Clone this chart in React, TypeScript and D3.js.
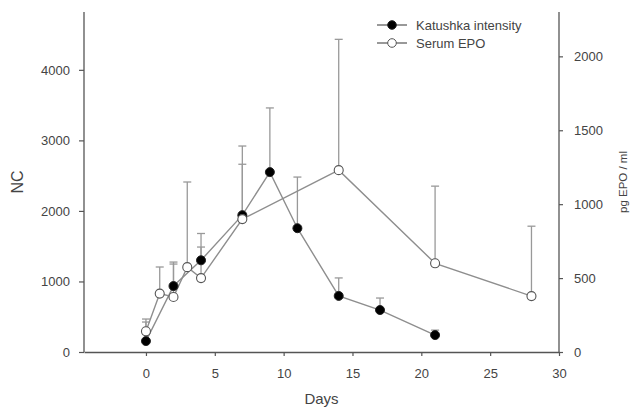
import React, { useEffect, useRef } from "react"
import * as d3 from "d3"

// Katushka intensity (left axis, NC)
const katDays = [0, 2, 4, 7, 9, 11, 14, 17, 21]
const katValues = [155, 935, 1300, 1940, 2550, 1755, 795, 595, 240]
const katErr = [270, 340, 380, 980, 910, 725, 255, 170, 70]

// Serum EPO (right axis, pg/ml)
const epoDays = [0, 1, 2, 3, 4, 7, 14, 21, 28]
const epoValues = [140, 395, 372, 574, 500, 899, 1230, 600, 378]
const epoErr = [83, 180, 223, 576, 210, 371, 885, 522, 473]

const xTicks = [0, 5, 10, 15, 20, 25, 30]
const leftTicks = [0, 1000, 2000, 3000, 4000]
const rightTicks = [0, 500, 1000, 1500, 2000]

const legendLabels = ["Katushka intensity", "Serum EPO"]

const width = 631
const height = 409

export default function App() {
  const ref = useRef<SVGSVGElement>(null)

  useEffect(() => {
    const svg = d3.select(ref.current)
    svg.selectAll("*").remove()

    const left = 84
    const right = 559
    const top = 12
    const bottom = 352
    const axisColor = "#555"
    const lineColor = "#8e8e8e"
    const textColor = "#444"
    const font = "Liberation Sans, Arial, sans-serif"
    const fmt = d3.format("d")

    const x = d3.scaleLinear().domain([-4.5, 30]).range([left, right])
    const yL = d3.scaleLinear().domain([0, 4820]).range([bottom, top])
    const yR = d3.scaleLinear().domain([0, 2300]).range([bottom, top])

    // axes
    const xAxis = svg
      .append("g")
      .attr("transform", `translate(0, ${bottom})`)
      .call(d3.axisBottom(x).tickValues(xTicks).tickFormat(fmt).tickSize(4).tickPadding(13).tickSizeOuter(0))
    const yAxisL = svg
      .append("g")
      .attr("transform", `translate(${left}, 0)`)
      .call(d3.axisLeft(yL).tickValues(leftTicks).tickFormat(fmt).tickSize(5).tickPadding(9).tickSizeOuter(0))
    const yAxisR = svg
      .append("g")
      .attr("transform", `translate(${right}, 0)`)
      .call(d3.axisRight(yR).tickValues(rightTicks).tickFormat(fmt).tickSize(4).tickPadding(11).tickSizeOuter(0))

    for (const ax of [xAxis, yAxisL, yAxisR]) {
      ax.select(".domain").attr("stroke", axisColor).attr("stroke-width", 1.3)
      ax.selectAll(".tick line").attr("stroke", axisColor).attr("stroke-width", 1.2)
      ax.selectAll(".tick text")
        .attr("fill", textColor)
        .style("font-family", font)
        .style("font-size", "13px")
    }
    // full-height domain lines
    yAxisL.select(".domain").attr("d", `M0,${top}V${bottom}`)
    yAxisR.select(".domain").attr("d", `M0,${top}V${bottom}`)

    // axis titles
    svg.append("text")
      .attr("transform", `translate(23, ${(top + bottom) / 2}) rotate(-90)`)
      .attr("text-anchor", "middle")
      .attr("fill", textColor)
      .style("font-family", font)
      .style("font-size", "16px")
      .text("NC")
    svg.append("text")
      .attr("transform", `translate(627, ${(top + bottom) / 2}) rotate(-90)`)
      .attr("text-anchor", "middle")
      .attr("fill", textColor)
      .style("font-family", font)
      .style("font-size", "11.5px")
      .text("pg EPO / ml")
    svg.append("text")
      .attr("x", (left + right) / 2)
      .attr("y", 404)
      .attr("text-anchor", "middle")
      .attr("fill", textColor)
      .style("font-family", font)
      .style("font-size", "15px")
      .text("Days")

    const kat = katDays.map((d, i) => ({ d, v: katValues[i], e: katErr[i] }))
    const epo = epoDays.map((d, i) => ({ d, v: epoValues[i], e: epoErr[i] }))

    const drawErr = (data: { d: number; v: number; e: number }[], y: d3.ScaleLinear<number, number>) => {
      const g = svg.append("g").attr("stroke", "#999").attr("stroke-width", 1.3)
      data.forEach((p) => {
        g.append("line").attr("x1", x(p.d)).attr("x2", x(p.d)).attr("y1", y(p.v)).attr("y2", y(p.v + p.e))
        g.append("line").attr("x1", x(p.d) - 4).attr("x2", x(p.d) + 4).attr("y1", y(p.v + p.e)).attr("y2", y(p.v + p.e))
      })
    }
    drawErr(kat, yL)
    drawErr(epo, yR)

    const lineL = d3.line<{ d: number; v: number }>().x((p) => x(p.d)).y((p) => yL(p.v))
    const lineR = d3.line<{ d: number; v: number }>().x((p) => x(p.d)).y((p) => yR(p.v))
    svg.append("path").datum(kat).attr("d", lineL).attr("fill", "none").attr("stroke", lineColor).attr("stroke-width", 1.4)
    svg.append("path").datum(epo).attr("d", lineR).attr("fill", "none").attr("stroke", lineColor).attr("stroke-width", 1.4)

    svg.append("g").selectAll("circle").data(kat).join("circle")
      .attr("cx", (p) => x(p.d)).attr("cy", (p) => yL(p.v)).attr("r", 4.5)
      .attr("fill", "#000").attr("stroke", "#222")
    svg.append("g").selectAll("circle").data(epo).join("circle")
      .attr("cx", (p) => x(p.d)).attr("cy", (p) => yR(p.v)).attr("r", 4.5)
      .attr("fill", "#fff").attr("stroke", "#555").attr("stroke-width", 1.1)

    // legend
    const lg = svg.append("g")
    legendLabels.forEach((label, i) => {
      const ly = 25 + i * 18
      lg.append("line").attr("x1", 377).attr("x2", 407).attr("y1", ly).attr("y2", ly)
        .attr("stroke", "#555").attr("stroke-width", 1.2)
      lg.append("circle").attr("cx", 392).attr("cy", ly).attr("r", 4.3)
        .attr("fill", i === 0 ? "#000" : "#fff").attr("stroke", i === 0 ? "#222" : "#555")
      lg.append("text").attr("x", 416).attr("y", ly + 4.5)
        .attr("fill", textColor)
        .style("font-family", font)
        .style("font-size", "13px")
        .text(label)
    })
  }, [])

  return (
    <svg
      ref={ref}
      width={width}
      height={height}
      style={{ position: "absolute", left: 0, top: 0, background: "#fff" }}
    />
  )
}
